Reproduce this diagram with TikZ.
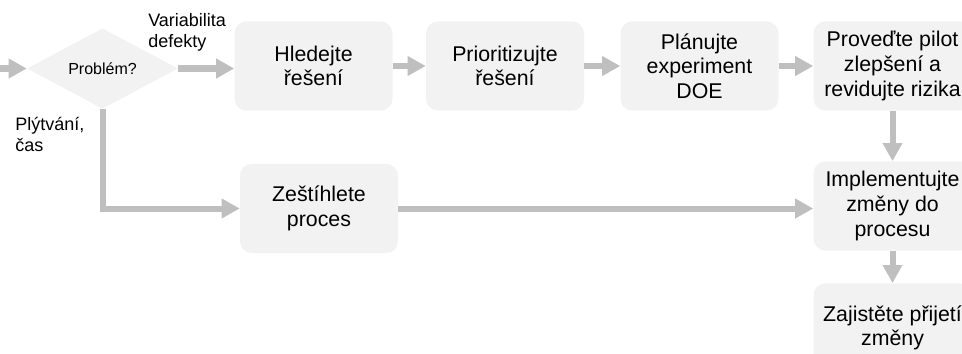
\documentclass[tikz,border=0pt]{standalone}
\usepackage{fontspec}
\setmainfont{Liberation Sans}
\usetikzlibrary{arrows.meta,shapes.geometric}
\definecolor{boxfill}{HTML}{F2F2F2}
\definecolor{arrowgray}{HTML}{BFBFBF}
\begin{document}
\begin{tikzpicture}[x=0.75pt,y=-0.75pt,
  stepbox/.style={fill=boxfill, rounded corners=9pt, minimum width=118.5pt, minimum height=67pt,
    align=center, font=\fontsize{16}{18.5}\selectfont, inner sep=0pt},
  flow/.style={draw=arrowgray, line width=4.5pt, -{Triangle[length=13.5pt,width=14pt]}},
  lbl/.style={font=\fontsize{13.5}{15.5}\selectfont, align=left, anchor=base west, inner sep=0pt}]
\useasboundingbox (0,0) rectangle (962,353);

\node[diamond, fill=boxfill, minimum width=113.25pt, minimum height=59.25pt, inner sep=0pt,
  font=\fontsize{12}{14}\selectfont] (dia) at (102.5,68.5) {Problém?};
\coordinate (in) at (0,68.5);

\node[stepbox] (hled) at (313.5,66) {Hledejte\\řešení};
\node[stepbox] (prio) at (505,66) {Prioritizujte\\řešení};
\node[stepbox] (plan) at (699.5,66) {Plánujte\\experiment\\DOE};
\node[stepbox] (prov) at (892.5,66) {Proveďte pilot\\zlepšení a\\revidujte rizika};
\node[stepbox] (zest) at (319,208.5) {Zeštíhlete\\proces};
\node[stepbox] (impl) at (892.5,206) {Implementujte\\změny do\\procesu};
\node[stepbox] (zaji) at (892.5,328) {Zajistěte přijetí\\změny};

\node[lbl] (lvar) at (148,47.5) {Variabilita\\defekty};
\node[lbl] (lply) at (15,151) {Plýtvání,\\čas};

\draw[flow] (in) -- (dia.west);
\draw[flow] (dia.east) -- (dia.east -| hled.west);
\draw[flow] (hled) -- (prio);
\draw[flow] (prio) -- (plan);
\draw[flow] (plan) -- (prov);
\draw[flow] (prov) -- (impl);
\draw[flow] (impl) -- (zaji);
\draw[flow] (dia.south) |- (zest.west);
\draw[flow] (zest.east) -- (zest.east -| impl.west);
\end{tikzpicture}
\end{document}
